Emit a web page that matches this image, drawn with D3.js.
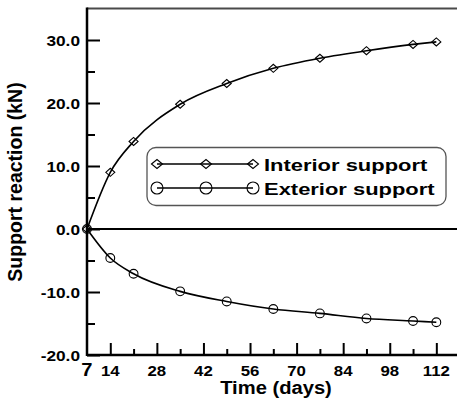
<!DOCTYPE html>
<html>
<head>
<meta charset="utf-8">
<script src="https://cdn.jsdelivr.net/npm/d3@7"></script>
<style>
  html, body { margin: 0; padding: 0; background: #fff; }
  svg { display: block; }
  text { font-family: "Liberation Sans", Arial, Helvetica, sans-serif; font-weight: bold; fill: #000; }
</style>
</head>
<body>
<svg id="chart" width="457" height="403"></svg>
<script>
// ---- data ----
const days = [7, 14, 21, 35, 49, 63, 77, 91, 105, 112];
const interior = [0, 9.0, 13.9, 19.8, 23.1, 25.5, 27.1, 28.3, 29.3, 29.7];
const exterior = [0, -4.6, -7.1, -9.9, -11.5, -12.7, -13.4, -14.2, -14.6, -14.8];
const seriesNames = ["Interior support", "Exterior support"];
const xTickLabels = [14, 28, 42, 56, 70, 84, 98, 112];
const xMinorTicks = [21, 35, 49, 63, 77, 91, 105];
const yTickLabels = [-20, -10, 0, 10, 20, 30];
const yMinorTicks = [-15, -5, 5, 15, 25];
const xTitle = "Time (days)";
const yTitle = "Support reaction (kN)";

// ---- layout ----
const svg = d3.select("#chart");
const L = 87, R = 457, T = 8.5, B = 355;
const x = d3.scaleLinear().domain([7, 7 + (R - L) / 3.327]).range([L, R]);
const y = d3.scaleLinear().domain([-20, 35]).range([B, T]);

function stretch(sel, f) {
  sel.each(function () {
    const w = this.getComputedTextLength();
    this.setAttribute("textLength", (w * f).toFixed(2));
    this.setAttribute("lengthAdjust", "spacingAndGlyphs");
  });
}

// top border (grey)
svg.append("line").attr("x1", L).attr("x2", R).attr("y1", T).attr("y2", T)
  .attr("stroke", "#4a4a4a").attr("stroke-width", 2);

// zero line
svg.append("line").attr("x1", L).attr("x2", R).attr("y1", y(0)).attr("y2", y(0))
  .attr("stroke", "#000").attr("stroke-width", 2);

// axes via d3 axis generators (inward ticks)
const xMajor = d3.axisBottom(x).tickValues(xTickLabels).tickSize(-12).tickFormat("");
const xMin = d3.axisBottom(x).tickValues(xMinorTicks).tickSize(-6).tickFormat("");
const yMajor = d3.axisLeft(y).tickValues(yTickLabels).tickSize(-13).tickFormat("");
const yMin = d3.axisLeft(y).tickValues(yMinorTicks).tickSize(-8).tickFormat("");

[[xMajor, "x"], [xMin, "x"], [yMajor, "y"], [yMin, "y"]].forEach(([ax, k]) => {
  const g = svg.append("g")
    .attr("transform", k === "x" ? `translate(0,${B})` : `translate(${L},0)`)
    .call(ax);
  g.select(".domain").remove();
  g.selectAll(".tick line").attr("stroke", "#000").attr("stroke-width", 2);
});

// axis lines
svg.append("line").attr("x1", L).attr("x2", R).attr("y1", B).attr("y2", B)
  .attr("stroke", "#000").attr("stroke-width", 2.5);
svg.append("line").attr("x1", L).attr("x2", L).attr("y1", T - 1).attr("y2", B + 1)
  .attr("stroke", "#000").attr("stroke-width", 2.5);

// tick labels
const xl = svg.append("g").selectAll("text").data([7].concat(xTickLabels)).join("text")
  .attr("x", d => x(d)).attr("y", 376)
  .attr("text-anchor", "middle")
  .style("font-size", d => d === 7 ? "18px" : "15px")
  .text(d => d);
stretch(xl, 1.12);

const yl = svg.append("g").selectAll("text").data(yTickLabels).join("text")
  .attr("x", 80).attr("y", d => y(d) + 5.5)
  .attr("text-anchor", "end")
  .style("font-size", "15px")
  .text(d => d.toFixed(1));
stretch(yl, 1.15);

// axis titles
const xt = svg.append("text").attr("x", 276).attr("y", 394)
  .attr("text-anchor", "middle").style("font-size", "18px").text(xTitle);
stretch(xt, 1.12);

svg.append("text")
  .attr("transform", "translate(22,182) rotate(-90)")
  .attr("text-anchor", "middle").style("font-size", "19.5px").text(yTitle);

// lines
const line = d3.line().x(d => x(d[0])).y(d => y(d[1])).curve(d3.curveMonotoneX);
const seriesData = [interior, exterior].map(vals => days.map((d, i) => [d, vals[i]]));

seriesData.forEach(s => {
  svg.append("path").attr("d", line(s)).attr("fill", "none")
    .attr("stroke", "#000").attr("stroke-width", 1.6);
});

// markers (hollow)
const diamond = (cx, cy, w, h) => `M${cx - w / 2},${cy}L${cx},${cy - h / 2}L${cx + w / 2},${cy}L${cx},${cy + h / 2}Z`;

svg.append("g").selectAll("path").data(seriesData[0]).join("path")
  .attr("d", d => diamond(x(d[0]), y(d[1]), 9, 8))
  .attr("fill", "none").attr("stroke", "#000").attr("stroke-width", 1.1);

svg.append("g").selectAll("circle").data(seriesData[1]).join("circle")
  .attr("cx", d => x(d[0])).attr("cy", d => y(d[1])).attr("r", 4.4)
  .attr("fill", "none").attr("stroke", "#000").attr("stroke-width", 1.1);

// legend
const lg = svg.append("g");
lg.append("rect").attr("x", 147).attr("y", 147.5).attr("width", 299).attr("height", 58)
  .attr("rx", 9).attr("fill", "#fff").attr("stroke", "#555").attr("stroke-width", 1.3);

const rows = [164, 188];
const mx = [157, 206, 253];
rows.forEach((ry, i) => {
  lg.append("line").attr("x1", mx[0]).attr("x2", mx[2]).attr("y1", ry).attr("y2", ry)
    .attr("stroke", "#000").attr("stroke-width", 1.4);
  mx.forEach(cx => {
    if (i === 0) {
      lg.append("path").attr("d", diamond(cx, ry, 11, 9))
        .attr("fill", "none").attr("stroke", "#000").attr("stroke-width", 1.1);
    } else {
      lg.append("circle").attr("cx", cx).attr("cy", ry).attr("r", 6)
        .attr("fill", "none").attr("stroke", "#000").attr("stroke-width", 1.1);
    }
  });
  const t = lg.append("text").attr("x", 264).attr("y", ry + 6.5)
    .style("font-size", "17px").text(seriesNames[i]);
  stretch(t, 1.29);
});
</script>
</body>
</html>
